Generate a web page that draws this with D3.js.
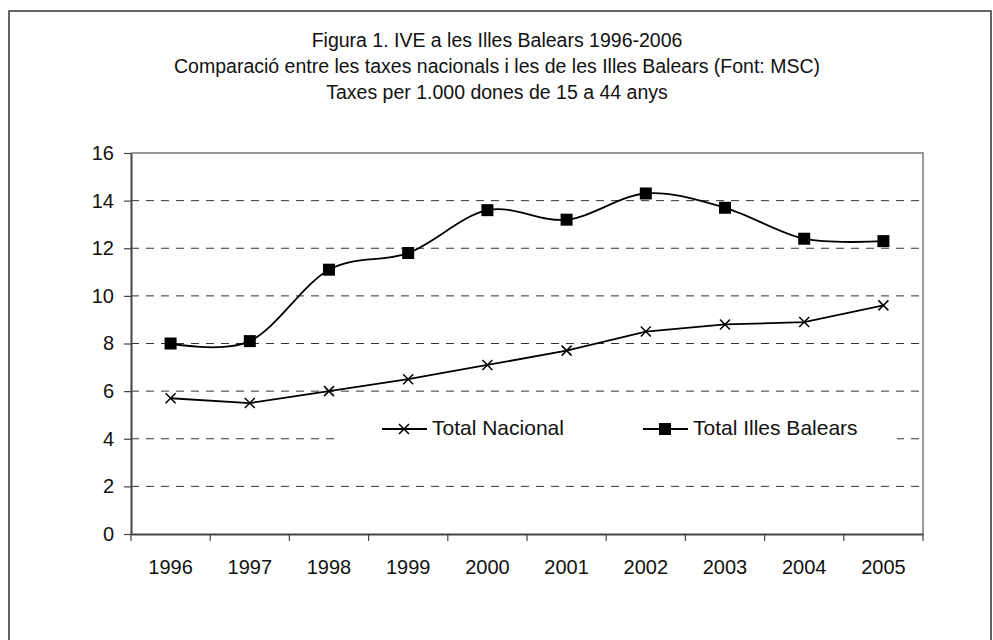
<!DOCTYPE html>
<html>
<head>
<meta charset="utf-8">
<script src="https://cdn.jsdelivr.net/npm/d3@7"></script>
<style>
  body { margin: 0; background: #fff; }
  svg { font-family: "Liberation Sans", Arial, sans-serif; }
</style>
</head>
<body>
<div id="vis"></div>
<script>
const FRAME_WIDTH = 993;
const FRAME_HEIGHT = 640;
const MARGINS = {left: 131, right: 70, top: 153, bottom: 106};

// data
const years = ["1996", "1997", "1998", "1999", "2000", "2001", "2002", "2003", "2004", "2005"];
const nacional = [5.7, 5.5, 6.0, 6.5, 7.1, 7.7, 8.5, 8.8, 8.9, 9.6];
const balears = [8.0, 8.1, 11.1, 11.8, 13.6, 13.2, 14.3, 13.7, 12.4, 12.3];
const yTicks = [0, 2, 4, 6, 8, 10, 12, 14, 16];
const titleLines = [
  "Figura 1. IVE a les Illes Balears 1996-2006",
  "Comparació entre les taxes nacionals i les de les Illes Balears (Font: MSC)",
  "Taxes per 1.000 dones de 15 a 44 anys"
];
const seriesNames = ["Total Nacional", "Total Illes Balears"];

const VIS_WIDTH = FRAME_WIDTH - MARGINS.left - MARGINS.right;
const VIS_HEIGHT = FRAME_HEIGHT - MARGINS.top - MARGINS.bottom;

const svg = d3.select("#vis")
  .append("svg")
    .attr("width", FRAME_WIDTH)
    .attr("height", FRAME_HEIGHT);

// outer chart frame (bottom runs past the window)
svg.append("rect")
  .attr("x", 9).attr("y", 11)
  .attr("width", 982).attr("height", 660)
  .attr("fill", "#fff")
  .attr("stroke", "#333")
  .attr("stroke-width", 1.5);

// title
svg.append("g")
  .selectAll("text")
  .data(titleLines)
  .enter()
  .append("text")
    .attr("x", 497)
    .attr("y", (d, i) => 47 + i * 26)
    .attr("text-anchor", "middle")
    .attr("font-size", "19.5px")
    .attr("fill", "#111")
    .text(d => d);

const X_SCALE = d3.scaleBand()
  .domain(years)
  .range([MARGINS.left, MARGINS.left + VIS_WIDTH]);

const Y_SCALE = d3.scaleLinear()
  .domain([0, 16])
  .range([MARGINS.top + VIS_HEIGHT, MARGINS.top]);

const cx = d => X_SCALE(d) + X_SCALE.bandwidth() / 2;

// grid lines (dashed), top one is the solid gray plot border
svg.append("g")
  .selectAll("line")
  .data(yTicks.filter(t => t > 0 && t < 16))
  .enter()
  .append("line")
    .attr("x1", MARGINS.left)
    .attr("x2", MARGINS.left + VIS_WIDTH)
    .attr("y1", d => Y_SCALE(d))
    .attr("y2", d => Y_SCALE(d))
    .attr("stroke", "#333")
    .attr("stroke-width", 1)
    .attr("stroke-dasharray", "8,7");

// top and right border of the plot area
svg.append("path")
  .attr("d", "M" + MARGINS.left + "," + Y_SCALE(16) +
             "H" + (MARGINS.left + VIS_WIDTH) +
             "V" + Y_SCALE(0))
  .attr("fill", "none")
  .attr("stroke", "#999")
  .attr("stroke-width", 2);

// y axis
const yAxis = svg.append("g")
  .attr("transform", "translate(" + MARGINS.left + ",0)")
  .call(d3.axisLeft(Y_SCALE).tickValues(yTicks).tickSize(7).tickSizeOuter(0).tickPadding(10));
yAxis.select(".domain").attr("stroke", "#444").attr("stroke-width", 2);
yAxis.selectAll(".tick line").attr("stroke", "#444").attr("stroke-width", 1.2);
yAxis.selectAll(".tick text")
  .attr("font-size", "20px")
  .attr("font-family", "Liberation Sans, Arial, sans-serif")
  .attr("fill", "#111");

// x axis: labels centred on the bands, ticks at the band edges
const xAxis = svg.append("g")
  .attr("transform", "translate(0," + Y_SCALE(0) + ")")
  .call(d3.axisBottom(X_SCALE).tickSize(0).tickSizeOuter(0).tickPadding(26));
xAxis.select(".domain").attr("stroke", "#444").attr("stroke-width", 2);
xAxis.selectAll(".tick text")
  .attr("font-size", "20px")
  .attr("font-family", "Liberation Sans, Arial, sans-serif")
  .attr("fill", "#111");

const edges = years.map(d => X_SCALE(d)).concat([MARGINS.left + VIS_WIDTH]);
svg.append("g")
  .selectAll("line")
  .data(edges)
  .enter()
  .append("line")
    .attr("x1", d => d).attr("x2", d => d)
    .attr("y1", Y_SCALE(0)).attr("y2", Y_SCALE(0) + 7)
    .attr("stroke", "#444")
    .attr("stroke-width", 1.2);

// lines
const lineStraight = d3.line()
  .x((d, i) => cx(years[i]))
  .y(d => Y_SCALE(d));

const lineSmooth = d3.line()
  .x((d, i) => cx(years[i]))
  .y(d => Y_SCALE(d))
  .curve(d3.curveCardinal.tension(0));

svg.append("path")
  .datum(nacional)
  .attr("d", lineStraight)
  .attr("fill", "none")
  .attr("stroke", "#000")
  .attr("stroke-width", 1.8);

svg.append("path")
  .datum(balears)
  .attr("d", lineSmooth)
  .attr("fill", "none")
  .attr("stroke", "#000")
  .attr("stroke-width", 1.8);

// markers
const crossPath = "M-5,-5L5,5M-5,5L5,-5";

svg.append("g")
  .selectAll("path")
  .data(nacional)
  .enter()
  .append("path")
    .attr("transform", (d, i) => "translate(" + cx(years[i]) + "," + Y_SCALE(d) + ")")
    .attr("d", crossPath)
    .attr("stroke", "#000")
    .attr("stroke-width", 1.5);

svg.append("g")
  .selectAll("rect")
  .data(balears)
  .enter()
  .append("rect")
    .attr("x", (d, i) => cx(years[i]) - 6)
    .attr("y", d => Y_SCALE(d) - 6)
    .attr("width", 12)
    .attr("height", 12)
    .attr("fill", "#000");

// legend (white box covers the grid line behind it)
const legend = svg.append("g");
legend.append("rect")
  .attr("x", 339).attr("y", 412)
  .attr("width", 558).attr("height", 32)
  .attr("fill", "#fff");

const legendX = [382, 643];
legendX.forEach((lx, i) => {
  legend.append("line")
    .attr("x1", lx).attr("x2", lx + 45)
    .attr("y1", 429).attr("y2", 429)
    .attr("stroke", "#000").attr("stroke-width", 1.8);
  if (i === 0) {
    legend.append("path")
      .attr("transform", "translate(" + (lx + 22) + ",429)")
      .attr("d", crossPath)
      .attr("stroke", "#000").attr("stroke-width", 1.5);
  } else {
    legend.append("rect")
      .attr("x", lx + 22 - 6).attr("y", 423)
      .attr("width", 12).attr("height", 12)
      .attr("fill", "#000");
  }
  legend.append("text")
    .attr("x", lx + 50)
    .attr("y", 435)
    .attr("font-size", "21px")
    .attr("fill", "#111")
    .text(seriesNames[i]);
});
</script>
</body>
</html>
